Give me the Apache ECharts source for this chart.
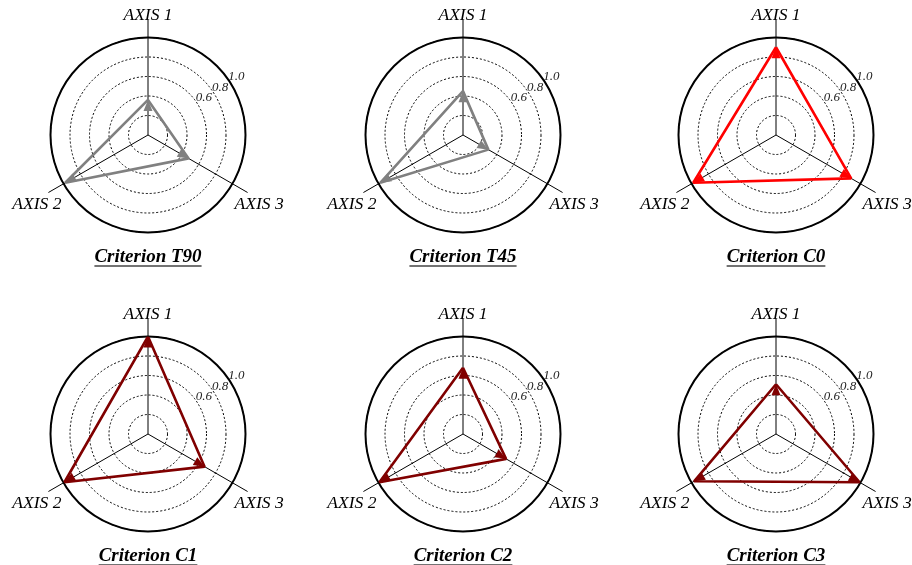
<!DOCTYPE html>
<html><head><meta charset="utf-8">
<script src="https://cdn.jsdelivr.net/npm/echarts@6/dist/echarts.min.js"></script>
<style>html,body{margin:0;padding:0;background:#fff}#c{width:912px;height:565px}</style>
</head><body><div id="c"></div>
<script>
// ---- data ----
const axisNames = ['AXIS 1', 'AXIS 2', 'AXIS 3'];
const tickLabels = ['0.6', '0.8', '1.0'];
const titles = ['Criterion T90', 'Criterion T45', 'Criterion C0', 'Criterion C1', 'Criterion C2', 'Criterion C3'];
const valuesT90 = [0.36, 0.98, 0.48];
const valuesT45 = [0.45, 0.98, 0.30];
const valuesC0 = [0.90, 0.98, 0.89];
const valuesC1 = [1.00, 0.99, 0.67];
const valuesC2 = [0.68, 0.99, 0.51];
const valuesC3 = [0.51, 0.97, 0.99];
const seriesValues = [valuesT90, valuesT45, valuesC0, valuesC1, valuesC2, valuesC3];
const seriesColors = ['#808080', '#808080', '#ff0000', '#800000', '#800000', '#800000'];

// ---- layout ----
const colX = [148, 463, 776];
const rowY = [135, 434];
const R = 97.5, RExt = 115;
const FONT = 'Liberation Serif';
const tickDirDeg = 33.5, tickShift = 8.5;
const arrowW = 9, arrowH = 11;
const step = 360 / axisNames.length;

const polar = [], angleAxis = [], radiusAxis = [], series = [], title = [], graphic = [];
const hidden = { axisLine: { show: false }, axisTick: { show: false }, axisLabel: { show: false }, splitLine: { show: false }, splitArea: { show: false } };
const nameFont = { fontFamily: FONT, fontStyle: 'italic', fontSize: 17.5, color: '#000' };

const ctx = document.createElement('canvas').getContext('2d');
ctx.font = 'italic bold 19px "' + FONT + '"';

seriesValues.forEach((vals, i) => {
  const cx = colX[i % 3], cy = rowY[Math.floor(i / 3)];
  const base = polar.length;
  // main polar: grid circles + outer circle
  polar.push({ center: [cx, cy], radius: R });
  angleAxis.push({
    polarIndex: base, type: 'value', min: 0, max: 360, interval: step, startAngle: 90, clockwise: false,
    axisLine: { show: true, lineStyle: { color: '#000', width: 2 } },
    axisTick: { show: false }, axisLabel: { show: false }, splitLine: { show: false }, z: 3
  });
  radiusAxis.push({
    polarIndex: base, type: 'value', min: 0, max: 1, interval: 0.2,
    axisLine: { show: false }, axisTick: { show: false }, axisLabel: { show: false },
    splitLine: { show: true, lineStyle: { color: '#000', width: 1, type: [2, 2] } }, z: 2
  });
  // extended polar: radial axis lines + axis names
  polar.push({ center: [cx, cy], radius: RExt });
  angleAxis.push({
    polarIndex: base + 1, type: 'value', min: 0, max: 360, interval: step, startAngle: 90, clockwise: false,
    axisLine: { show: false }, axisTick: { show: false },
    axisLabel: {
      show: true, margin: -15,
      formatter: v => {
        const k = Math.round(v / step);
        if (k >= axisNames.length) return '';
        return '{' + (k === 0 ? 'top' : 'side') + '|' + axisNames[k] + '}';
      },
      rich: {
        top: Object.assign({ padding: [0, 0, 11, 0] }, nameFont),
        side: Object.assign({ padding: [10, 0, 0, 0] }, nameFont)
      }
    },
    splitLine: { show: true, lineStyle: { color: '#000', width: 1 } }, z: 2
  });
  radiusAxis.push(Object.assign({ polarIndex: base + 1, type: 'value', min: 0, max: 1 }, hidden));
  // tick label polar
  const a = tickDirDeg * Math.PI / 180;
  polar.push({ center: [cx + tickShift * Math.cos(a), cy - tickShift * Math.sin(a)], radius: R });
  angleAxis.push(Object.assign({ polarIndex: base + 2, type: 'value', startAngle: tickDirDeg, min: 0, max: 360 }, hidden));
  radiusAxis.push({
    polarIndex: base + 2, type: 'value', min: 0, max: 1, interval: 0.2,
    axisLine: { show: false }, axisTick: { show: false }, splitLine: { show: false },
    axisLabel: {
      show: true, margin: 0, align: 'center', verticalAlign: 'middle', color: '#222',
      showMinLabel: true, showMaxLabel: true, hideOverlap: false,
      fontFamily: FONT, fontStyle: 'italic', fontSize: 13,
      formatter: v => { const s = Number(v).toFixed(1); return tickLabels.includes(s) ? s : ''; }
    }, z: 4
  });

  // data polygon with arrowheads
  const data = vals.map((v, k) => {
    const th = (90 + k * step) * Math.PI / 180;
    return {
      value: [v, k * step], symbolRotate: k * step,
      symbolOffset: [-Math.cos(th) * arrowH / 2, Math.sin(th) * arrowH / 2]
    };
  });
  data.push({ value: [vals[0], 0], symbol: 'none' });
  series.push({
    type: 'line', coordinateSystem: 'polar', polarIndex: base, data: data, clip: false,
    symbol: 'triangle', symbolSize: [arrowW, arrowH], showSymbol: true,
    lineStyle: { color: seriesColors[i], width: 2.6 },
    itemStyle: { color: seriesColors[i] }, z: 5, animation: false, silent: true
  });

  // title + underline
  const ty = cy + 113;
  title.push({
    text: titles[i], left: cx, top: ty, textAlign: 'center', padding: 0,
    textStyle: { fontFamily: FONT, fontStyle: 'italic', fontWeight: 'bold', fontSize: 19, color: '#000' }
  });
  const w = ctx.measureText(titles[i]).width;
  graphic.push({
    type: 'line', shape: { x1: cx - w / 2, y1: cy + 131, x2: cx + w / 2, y2: cy + 131 },
    style: { stroke: '#444', lineWidth: 1.5 }, silent: true
  });
});

const chart = echarts.init(document.getElementById('c'), null, { renderer: 'canvas' });
chart.setOption({ backgroundColor: '#fff', animation: false, title, polar, angleAxis, radiusAxis, series, graphic });
</script></body></html>
